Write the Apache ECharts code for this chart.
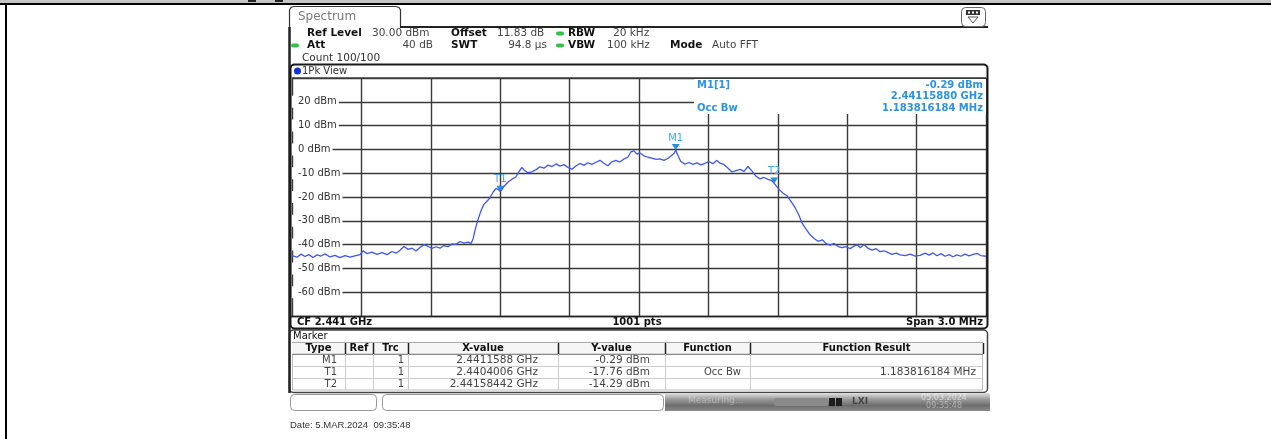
<!DOCTYPE html>
<html>
<head>
<meta charset="utf-8">
<script src="https://cdn.jsdelivr.net/npm/echarts@6/dist/echarts.min.js"></script>
<style>
  html, body { margin: 0; padding: 0; background: #fff; }
  #chart { width: 1271px; height: 439px; }
</style>
</head>
<body>
<div id="chart"></div>
<script>
// Sweep settings: centre frequency, span and sweep points
const CF_GHZ = 2.441;
const SPAN_MHZ = 3.0;
const SWEEP_POINTS = 1001;
const REF_LEVEL_DBM = 30;
const RANGE_DB = 100;
const DIV_KHZ = 300;

// 1Pk trace, frequency as offset from CF in kHz, level in dBm
const traceOffsetKHz = [
  -1500, -1478, -1461, -1444, -1427, -1409, -1392, -1375, -1357, -1336,
  -1314, -1293, -1271, -1249, -1228, -1206, -1193, -1176, -1154, -1133,
  -1111, -1089, -1068, -1050, -1033, -1016, -998, -981, -964, -947,
  -929, -912, -895, -877, -860, -843, -826, -808, -791, -774,
  -756, -739, -726, -717, -709, -696, -683, -670, -657, -644,
  -631, -618, -608, -599.4, -584, -567, -549, -532, -519, -506,
  -493, -480, -463, -445, -428, -411, -393, -376, -359, -342,
  -324, -307, -290, -273, -255, -238, -221, -204, -186, -169,
  -152, -135, -117, -100, -83, -65, -48, -35, -22, -9,
  4, 22, 39, 56, 74, 91, 108, 126, 143, 152,
  158.8, 168, 180, 198, 216, 233, 250, 268, 285, 302,
  319, 337, 350, 367, 384, 402, 419, 437, 454, 471,
  488, 506, 523, 540, 558, 575, 584.42, 605, 623, 640,
  657, 675, 692, 705, 722, 740, 757, 774, 792, 809,
  826, 844, 861, 878, 895, 913, 930, 943, 956, 973,
  991, 1008, 1025, 1042, 1060, 1077, 1094, 1112, 1129, 1151,
  1172, 1194, 1215, 1237, 1254, 1271, 1288, 1306, 1323, 1340,
  1357, 1375, 1392, 1409, 1427, 1444, 1461, 1478, 1500
];
const traceLevelDbm = [
  -44.6, -45.3, -44.0, -45.0, -44.2, -45.4, -44.3, -44.8, -43.9, -45.2,
  -44.5, -45.5, -44.6, -45.3, -44.7, -44.2, -42.6, -43.8, -43.2, -44.1,
  -43.4, -44.2, -42.9, -43.6, -42.4, -40.8, -42.0, -41.5, -42.7, -41.2,
  -40.0, -40.8, -41.6, -40.9, -41.5, -40.4, -40.9, -39.7, -39.9, -38.7,
  -39.4, -39.0, -39.5, -37.5, -34.0, -29.5, -25.8, -23.0, -21.8, -20.2,
  -18.0, -16.4, -16.9, -17.76, -15.6, -13.8, -12.5, -11.6, -9.3, -7.6,
  -9.0, -9.8, -9.4, -8.5, -7.3, -7.9, -6.6, -7.2, -6.1, -7.0,
  -6.4, -7.6, -8.3, -7.0, -5.9, -6.7, -5.6, -6.3, -5.4, -4.6,
  -5.8, -6.9, -5.2, -4.6, -5.3, -4.0, -3.3, -1.0, -0.6, -2.0,
  -1.5, -2.7, -3.3, -3.7, -4.2, -4.0, -4.6, -3.7, -2.4, -1.6,
  -0.29, -2.5, -5.0, -6.2, -5.5, -6.3, -5.7, -6.5, -5.9, -5.1,
  -6.0, -4.6, -5.8, -6.3, -7.8, -9.5, -8.9, -8.4, -9.2, -7.2,
  -9.0, -11.3, -12.4, -11.8, -12.6, -13.2, -14.29, -16.8, -18.4, -19.5,
  -21.8, -24.5, -27.8, -31.0, -33.5, -35.9, -37.4, -38.6, -38.0, -39.6,
  -40.2, -39.5, -40.8, -41.3, -40.9, -41.7, -40.6, -40.1, -41.3, -40.0,
  -41.6, -42.3, -41.7, -43.0, -42.6, -43.4, -44.1, -43.6, -44.3, -44.6,
  -44.0, -44.8, -44.5, -43.6, -44.4, -43.5, -44.7, -43.8, -44.9, -44.2,
  -45.1, -44.3, -44.9, -44.0, -44.7, -44.1, -43.7, -44.6, -44.9
];

// Level axis labels (dBm)
const levelTicks = [20, 10, 0, -10, -20, -30, -40, -50, -60];

// Marker table
const markerTypes = ['M1', 'T1', 'T2'];
const markerTrace = [1, 1, 1];
const markerFreqGHz = [2.4411588, 2.4404006, 2.44158442];
const markerLevelDbm = [-0.29, -17.76, -14.29];
const markerFunction = ['', 'Occ Bw', ''];
const occBwMHz = 1.183816184;

const FONT = '"DejaVu Sans", Verdana, sans-serif';
const BLUE_TXT = '#2b93e2';

const chart = echarts.init(document.getElementById('chart'), null, { renderer: 'canvas' });

const g = [];
function txt(x, y, s, o = {}) {
  g.push({
    type: 'text', x: x, y: y, z: o.z || 30, silent: true,
    style: {
      text: s, fill: o.c || '#333',
      font: (o.w || 'normal') + ' ' + (o.s || 10) + 'px ' + FONT,
      textAlign: o.a || 'left', align: o.a || 'left',
      textVerticalAlign: 'middle', verticalAlign: 'middle', opacity: o.op == null ? 1 : o.op
    }
  });
}
function rect(x, y, w, h, o = {}) {
  g.push({
    type: 'rect', z: o.z || 5, silent: true,
    shape: { x: x, y: y, width: w, height: h, r: o.r || 0 },
    style: { fill: o.fill || 'none', stroke: o.stroke || null, lineWidth: o.lw || 1 }
  });
}
function line(x1, y1, x2, y2, o = {}) {
  g.push({
    type: 'line', z: o.z || 6, silent: true,
    shape: { x1: x1, y1: y1, x2: x2, y2: y2 },
    style: { stroke: o.c || '#333', lineWidth: o.lw || 1 }
  });
}

// page frame
rect(0, 0, 1271, 3, { fill: '#c4c4c4', z: 1 });
rect(0, 3, 1271, 2, { fill: '#000', z: 2 });
rect(5, 3, 2, 436, { fill: '#000', z: 2 });
rect(248, 0, 8, 2, { fill: '#222', z: 2 });
rect(275, 0, 8, 2, { fill: '#222', z: 2 });

// "Spectrum" tab and panel edges
g.push({
  type: 'polyline', z: 6, silent: true,
  shape: { points: [[289.5, 28], [289.5, 10], [291, 7.5], [293.5, 6.5], [396, 6.5], [399, 7.5], [400.5, 10], [400.5, 27]] },
  style: { stroke: '#333', lineWidth: 1.2, fill: null }
});
line(400, 27, 988, 27, { c: '#222', lw: 2 });
line(289.5, 27, 289.5, 393, { c: '#222', lw: 2.5 });
txt(298, 17, 'Spectrum', { s: 12, c: '#7a7a7a' });

// display menu icon
rect(961.5, 7.5, 24, 19, { r: 4, stroke: '#666', lw: 1, fill: '#fff', z: 6 });
rect(966, 10, 14, 5, { fill: '#333', z: 7 });
rect(968, 11.5, 2, 2, { fill: '#fff', z: 8 });
rect(972, 11.5, 2, 2, { fill: '#fff', z: 8 });
rect(976, 11.5, 2, 2, { fill: '#fff', z: 8 });
g.push({
  type: 'polyline', z: 7, silent: true,
  shape: { points: [[968, 17], [978, 17], [973, 23], [968, 17]] },
  style: { stroke: '#555', lineWidth: 1, fill: null }
});

// instrument settings header
const HS = 10.5;
txt(307, 33, 'Ref Level', { w: 'bold', s: HS, c: '#111' });
txt(372, 33, REF_LEVEL_DBM.toFixed(2) + ' dBm', { s: HS, c: '#444' });
txt(451, 33, 'Offset', { w: 'bold', s: HS, c: '#111' });
txt(497, 33, '11.83 dB', { s: HS, c: '#444' });
txt(568, 33, 'RBW', { w: 'bold', s: HS, c: '#111' });
txt(613, 33, '20 kHz', { s: HS, c: '#444' });
txt(307, 45, 'Att', { w: 'bold', s: HS, c: '#111' });
txt(433, 45, '40 dB', { s: HS, c: '#444', a: 'right' });
txt(451, 45, 'SWT', { w: 'bold', s: HS, c: '#111' });
txt(547, 45, '94.8 µs', { s: HS, c: '#444', a: 'right' });
txt(568, 45, 'VBW', { w: 'bold', s: HS, c: '#111' });
txt(607, 45, '100 kHz', { s: HS, c: '#444' });
txt(670, 45, 'Mode', { w: 'bold', s: HS, c: '#111' });
txt(712, 45, 'Auto FFT', { s: HS, c: '#444' });
txt(302, 58, 'Count 100/100', { s: HS, c: '#333' });
[[295, 45.5], [560, 33.5], [560, 45.5]].forEach(function (p) {
  g.push({ type: 'rect', z: 8, silent: true, shape: { x: p[0] - 4, y: p[1] - 2, width: 8, height: 4, r: 2 }, style: { fill: '#2ec24a' } });
});

// diagram frame
rect(290.5, 64.5, 697, 264, { r: 4, stroke: '#1a1a1a', lw: 2, z: 12 });
line(291, 77.5, 987, 77.5, { c: '#666', lw: 1, z: 12 });
line(291, 316.5, 987, 316.5, { c: '#222', lw: 1.5, z: 12 });
g.push({ type: 'circle', z: 12, silent: true, shape: { cx: 297.5, cy: 71, r: 3.5 }, style: { fill: '#1233d6' } });
txt(302, 71, '1Pk View', { s: 10, c: '#333' });

// footer of the diagram
txt(297, 322.5, 'CF ' + CF_GHZ + ' GHz', { w: 'bold', s: 10, c: '#111' });
txt(637, 322.5, SWEEP_POINTS + ' pts', { w: 'bold', s: 10, c: '#111', a: 'center' });
txt(983, 322.5, 'Span ' + SPAN_MHZ.toFixed(1) + ' MHz', { w: 'bold', s: 10, c: '#111', a: 'right' });

// marker readout block inside the diagram
rect(694, 79, 292, 35, { fill: '#fff', z: 9 });
txt(697, 85, markerTypes[0] + '[' + markerTrace[0] + ']', { w: 'bold', s: 10, c: BLUE_TXT });
txt(983, 85, markerLevelDbm[0].toFixed(2) + ' dBm', { w: 'bold', s: 10, c: BLUE_TXT, a: 'right' });
txt(983, 96, markerFreqGHz[0].toFixed(8) + ' GHz', { w: 'bold', s: 10, c: BLUE_TXT, a: 'right' });
txt(697, 108, 'Occ Bw', { w: 'bold', s: 10, c: BLUE_TXT });
txt(983, 108, occBwMHz + ' MHz', { w: 'bold', s: 10, c: BLUE_TXT, a: 'right' });

// marker table
rect(289.5, 330, 698, 62.5, { r: 4, stroke: '#444', lw: 1.5, fill: '#fff', z: 4 });
txt(293, 336, 'Marker', { s: 10, c: '#111' });
const colEdges = [292, 345, 373, 408, 558, 665, 750, 983];
const headers = ['Type', 'Ref', 'Trc', 'X-value', 'Y-value', 'Function', 'Function Result'];
const rowTop = 342, rowH = 12;
rect(292, rowTop, 691, rowH, { fill: '#f6f6f6', z: 5 });
rect(292.5, rowTop + rowH, 690, rowH * 3, { stroke: '#bbb', lw: 1, z: 6 });
for (let r = 1; r <= 3; r++) line(292, rowTop + rowH * r + 0.5, 983, rowTop + rowH * r + 0.5, { c: r === 1 ? '#888' : '#ccc', lw: 1 });
line(292, rowTop + 0.5, 983, rowTop + 0.5, { c: '#aaa', lw: 1 });
colEdges.forEach(function (x, i) {
  if (i === 0) return;
  line(x + 0.5, rowTop + 1, x + 0.5, rowTop + rowH, { c: '#222', lw: 1.5 });
  if (i < colEdges.length - 1) line(x + 0.5, rowTop + rowH, x + 0.5, rowTop + rowH * 4, { c: '#ccc', lw: 1 });
});
headers.forEach(function (h, i) {
  txt((colEdges[i] + colEdges[i + 1]) / 2, rowTop + 6.5, h, { w: 'bold', s: 10, c: '#111', a: 'center' });
});
markerTypes.forEach(function (m, i) {
  const y = rowTop + rowH * (i + 1) + 6.5;
  txt(337, y, m, { s: 10, c: '#444', a: 'right' });
  txt(404, y, String(markerTrace[i]), { s: 10, c: '#444', a: 'right' });
  txt(538, y, String(markerFreqGHz[i]) + ' GHz', { s: 10.5, c: '#444', a: 'right' });
  txt(650, y, markerLevelDbm[i].toFixed(2) + ' dBm', { s: 10.5, c: '#444', a: 'right' });
  if (markerFunction[i]) {
    txt(741, y, markerFunction[i], { s: 10, c: '#444', a: 'right' });
    txt(976, y, occBwMHz + ' MHz', { s: 10.5, c: '#444', a: 'right' });
  }
});

// status bar
rect(290.5, 394.5, 86, 16, { r: 4, stroke: '#999', lw: 1, fill: '#fff' });
rect(382.5, 394.5, 281, 16, { r: 4, stroke: '#999', lw: 1, fill: '#fff' });
g.push({
  type: 'rect', z: 5, silent: true,
  shape: { x: 665, y: 393, width: 325, height: 18 },
  style: {
    fill: new echarts.graphic.LinearGradient(0, 0, 0, 1, [
      { offset: 0, color: '#e2e2e2' }, { offset: 0.35, color: '#9a9a9a' },
      { offset: 0.7, color: '#6c6c6c' }, { offset: 1, color: '#8c8c8c' }
    ])
  }
});
txt(688, 401, 'Measuring...', { s: 9, c: '#fff', op: 0.35 });
rect(774, 398, 54, 8, { r: 2, fill: '#8a8a8a', z: 7 });
rect(829, 398, 6, 8, { fill: '#1e1e1e', z: 7 });
rect(836, 398, 6, 8, { fill: '#1e1e1e', z: 7 });
txt(852, 402, 'LXI', { s: 9, c: '#444', w: 'bold' });
txt(944, 398, '05.03.2024', { s: 8, c: '#fff', op: 0.55, a: 'center' });
txt(944, 406, '09:35:48', { s: 8, c: '#fff', op: 0.4, a: 'center' });

// print date below the screenshot
g.push({
  type: 'text', x: 290, y: 425, z: 30, silent: true,
  style: { text: 'Date: 5.MAR.2024  09:35:48', fill: '#333', font: '9.5px "Liberation Sans", Arial, sans-serif', verticalAlign: 'middle', textVerticalAlign: 'middle' }
});

const traceData = traceOffsetKHz.map(function (f, i) { return [f, traceLevelDbm[i]]; });
const markerData = markerTypes.map(function (m, i) {
  return { name: m, coord: [(markerFreqGHz[i] - CF_GHZ) * 1e6, markerLevelDbm[i]] };
});

const halfSpanKHz = SPAN_MHZ * 1000 / 2;
chart.setOption({
  animation: false,
  backgroundColor: '#fff',
  grid: { left: 292, top: 78, width: 694, height: 238, containLabel: false },
  xAxis: {
    type: 'value', min: -halfSpanKHz, max: halfSpanKHz, interval: DIV_KHZ,
    axisLine: { show: false }, axisTick: { show: false }, axisLabel: { show: false },
    splitLine: { show: true, lineStyle: { color: '#3a3a3a', width: 1.4 } }
  },
  yAxis: {
    type: 'value', min: REF_LEVEL_DBM - RANGE_DB, max: REF_LEVEL_DBM, interval: 10,
    axisLine: { show: false }, axisTick: { show: false },
    splitLine: { show: true, lineStyle: { color: '#3a3a3a', width: 1.4 } },
    axisLabel: {
      show: true, inside: true, margin: 0,
      showMinLabel: false, showMaxLabel: false,
      formatter: function (v) { return levelTicks.indexOf(v) >= 0 ? v + ' dBm' : ''; },
      color: '#333', fontSize: 10, fontFamily: FONT,
      backgroundColor: '#fff', padding: [1, 2, 1, 6]
    }
  },
  graphic: g,
  series: [{
    type: 'line', name: '1Pk', data: traceData, showSymbol: false, z: 20,
    lineStyle: { color: '#3f57f2', width: 1.3 },
    itemStyle: { color: '#3f57f2' },
    markPoint: {
      symbol: 'triangle', symbolRotate: 180, symbolSize: [8, 6], symbolOffset: [0, -3],
      itemStyle: { color: '#2790dc' },
      label: { show: true, position: 'top', distance: 1, formatter: '{b}', color: '#3fa8ee', fontSize: 10, fontFamily: FONT },
      data: markerData
    }
  }]
});
</script>
</body>
</html>
